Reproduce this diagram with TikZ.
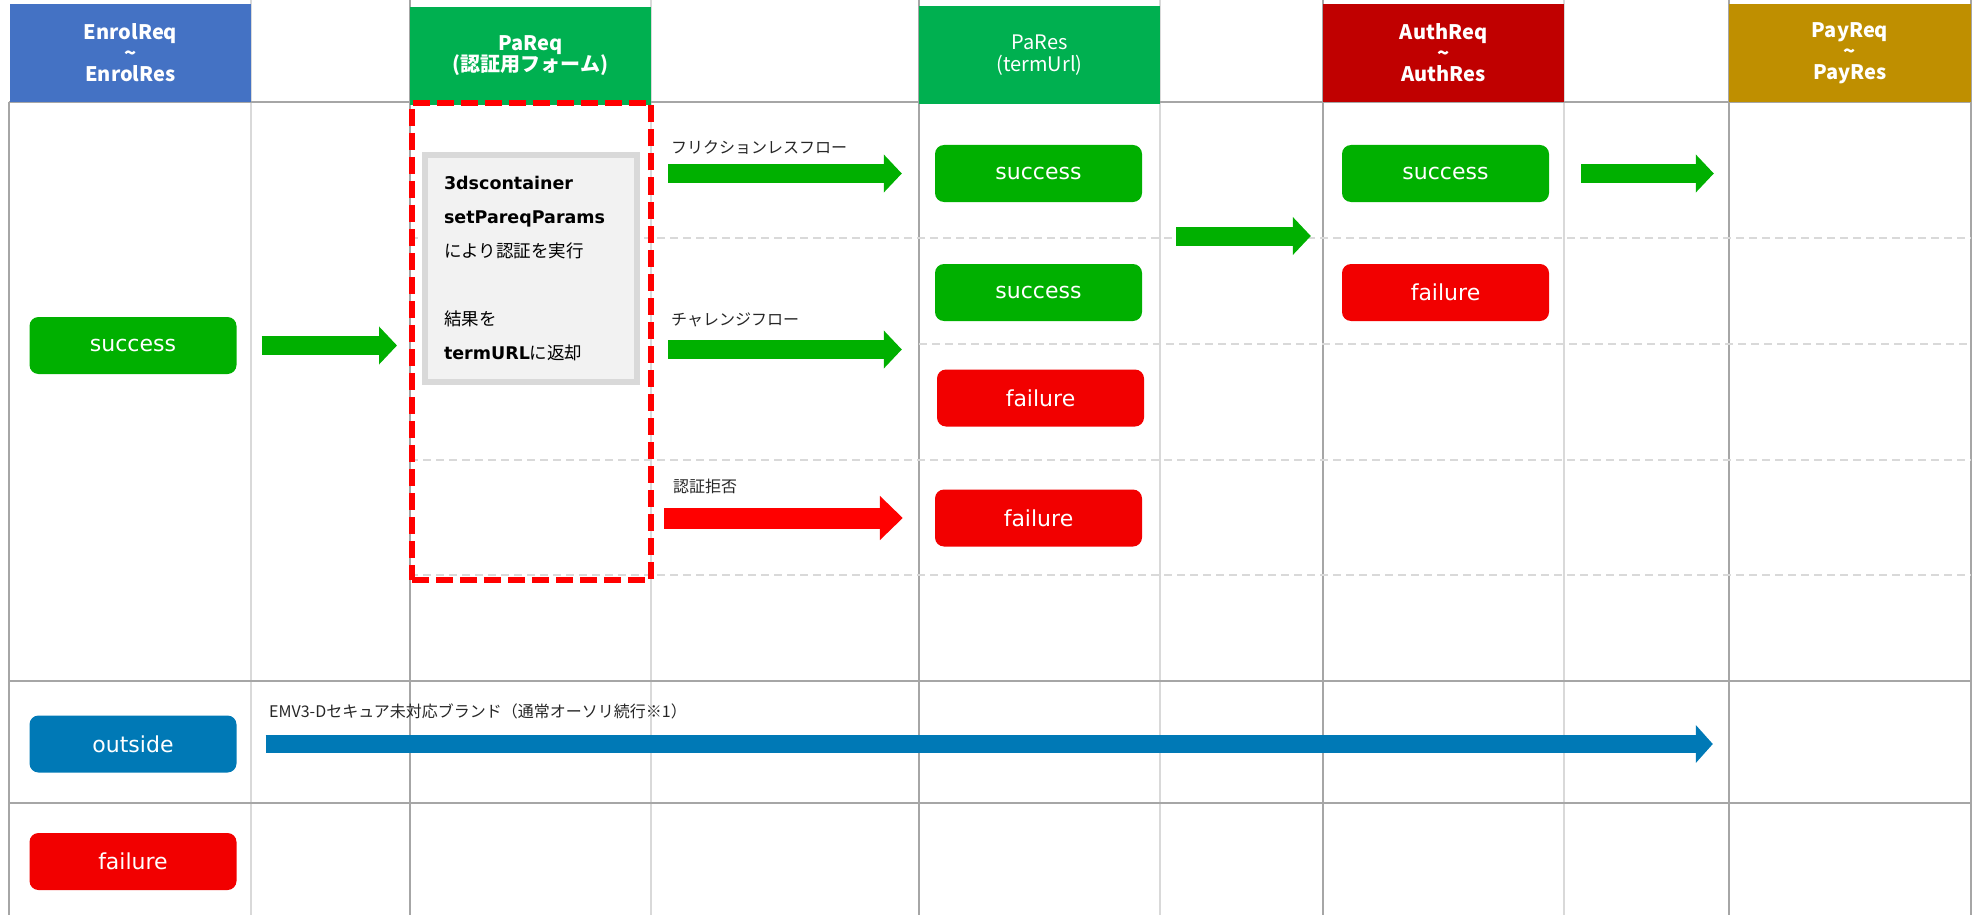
\documentclass[tikz,border=0pt]{standalone}
\usepackage{fontspec}
\setmainfont{DejaVu Sans}
\newfontfamily\jpfont{Noto Sans CJK JP}
\usepackage{tikz}
\usetikzlibrary{arrows.meta,positioning,calc}
\definecolor{enrolblue}{HTML}{4472C4}
\definecolor{pagreen}{HTML}{00B050}
\definecolor{authred}{HTML}{C00000}
\definecolor{paygold}{HTML}{BF8F00}
\definecolor{okgreen}{HTML}{00B000}
\definecolor{ngred}{HTML}{F20000}
\definecolor{outblue}{HTML}{0079B6}
\definecolor{rejred}{HTML}{FF0000}
\definecolor{gridgray}{HTML}{A6A6A6}
\definecolor{gridlight}{HTML}{D9D9D9}
\definecolor{formfill}{HTML}{F2F2F2}
\definecolor{labelgray}{HTML}{262626}
\tikzset{
  headbox/.style={
    rectangle, fill=#1, text=white, inner sep=0pt,
    minimum width=241pt, minimum height=98pt, align=center,
    font=\jpfont\bfseries\fontsize{20}{21}\selectfont
  },
  statbox/.style={
    rectangle, rounded corners=9pt, fill=#1, text=white, inner sep=0pt,
    minimum width=207pt, minimum height=57pt,
    font=\fontsize{22}{26}\selectfont
  },
  statbox/.default=okgreen,
  formbox/.style={
    rectangle, draw=gridlight, fill=formfill, line width=6pt,
    minimum width=212pt, minimum height=227pt, inner sep=0pt,
    text width=174pt, align=left, font=\fontsize{17.5}{34}\selectfont
  },
  frameline/.style={
    rectangle, draw=rejred, line width=6pt, dash pattern=on 17pt off 7pt,
    minimum width=238.5pt, minimum height=477pt, inner sep=0pt, outer sep=0pt
  },
  flowarrow/.style={
    line width=19pt, color=#1, -{Triangle[length=18pt,width=37pt]}
  },
  flowarrow/.default=okgreen,
  rejectarrow/.style={
    line width=21pt, color=rejred, -{Triangle[length=23pt,width=43pt]}
  },
  flowlabel/.style={
    anchor=west, inner sep=0pt, text=labelgray,
    font=\jpfont\fontsize{16}{18}\selectfont
  },
  gridline/.style={draw=gridgray, line width=2pt},
  gridthin/.style={draw=gridlight, line width=1.5pt},
  rowdash/.style={draw=gridlight, line width=1.5pt, dash pattern=on 8pt off 5pt},
}
\begin{document}
\begin{tikzpicture}[x=1pt, y=-1pt]
\useasboundingbox (0,0) rectangle (1974,915);

% table grid
\foreach \x in {251,651,1160,1564} \draw[gridthin] (\x,0) -- (\x,915);
\foreach \x in {410,919,1323,1729} \draw[gridline] (\x,0) -- (\x,915);
\draw[gridline] (9,102) -- (9,915);
\draw[gridline] (1971,0) -- (1971,915);
\foreach \y in {102,681,803} \draw[gridline] (9,\y) -- (1971,\y);
\draw[rowdash] (410,238) -- (1971,238);
\draw[rowdash] (919,344) -- (1971,344);
\draw[rowdash] (410,460) -- (1971,460);
\draw[rowdash] (410,575) -- (1971,575);

% column heads
\node[headbox=enrolblue] (enrolhead) at (130.5,53) {EnrolReq\\\textasciitilde\\EnrolRes};
\node[headbox=pagreen] (pareqhead) at (530.5,56) {PaReq\\(認証用フォーム)};
\node[headbox=pagreen, font=\jpfont\fontsize{20}{22}\selectfont] (pareshead) at (1039.5,55) {PaRes\\(termUrl)};
\node[headbox=authred] (authhead) at (1443.5,53) {AuthReq\\\textasciitilde\\AuthRes};
\node[headbox=paygold, minimum width=242pt] (payhead) at (1850,53) {PayReq\\\textasciitilde\\PayRes};

% 3ds form
\node[formbox] (pareqform) at (531,268.5) {\textbf{3dscontainer}\\
  \textbf{setPareqParams}\\
  {\jpfont により認証を実行}\\[34pt]
  {\jpfont 結果を}\\
  \textbf{termURL}{\jpfont に返却}};
\node[frameline] (pareqframe) at (531.25,341.5) {};

% results
\node[statbox] (enrolok) at (133,345.5) {success};
\node[statbox=outblue] (outside) at (133,744) {outside};
\node[statbox=ngred] (enrolng) at (133,861.5) {failure};
\node[statbox] (paresok1) at (1038.5,173.5) {success};
\node[statbox] (paresok2) at (1038.5,292.5) {success};
\node[statbox=ngred] (paresng1) at (1040.5,398) {failure};
\node[statbox=ngred] (paresng2) at (1038.5,518) {failure};
\node[statbox] (authok) at (1445.5,173.5) {success};
\node[statbox=ngred] (authng) at (1445.5,292.5) {failure};

\coordinate (chalrow) at (paresok2.west |- 0,349.5);
\coordinate (authrow) at (authok.west |- 0,236);

% flows
\draw[flowarrow, shorten <=25pt, shorten >=15pt] (enrolok.east) -- (enrolok.east -| pareqframe.west);
\draw[flowarrow, shorten <=17.5pt, shorten >=33pt] (paresok1.west -| pareqframe.east) -- (paresok1.west);
\draw[flowarrow, shorten <=17.5pt, shorten >=33pt] (chalrow -| pareqframe.east) -- (chalrow);
\draw[rejectarrow, shorten <=13.5pt, shorten >=32pt] (paresng2.west -| pareqframe.east) -- (paresng2.west);
\draw[flowarrow, shorten <=34pt, shorten >=31pt] (paresok1.east |- authrow) -- (authrow);
\draw[flowarrow, shorten <=32pt, shorten >=15pt] (authok.east) -- (authok.east -| payhead.west);
\draw[flowarrow=outblue, line width=18.5pt, -{Triangle[length=17pt,width=37pt]},
  shorten <=29pt, shorten >=16pt] (outside.east) -- (outside.east -| payhead.west);

\node[flowlabel] (frictlabel) at (671,147) {フリクションレスフロー};
\node[flowlabel] (challabel) at (671,320) {チャレンジフロー};
\node[flowlabel] (rejlabel) at (673,486) {認証拒否};
\node[flowlabel] (outlabel) at (269,711) {EMV3-Dセキュア未対応ブランド（通常オーソリ続行※1）};
\end{tikzpicture}
\end{document}
